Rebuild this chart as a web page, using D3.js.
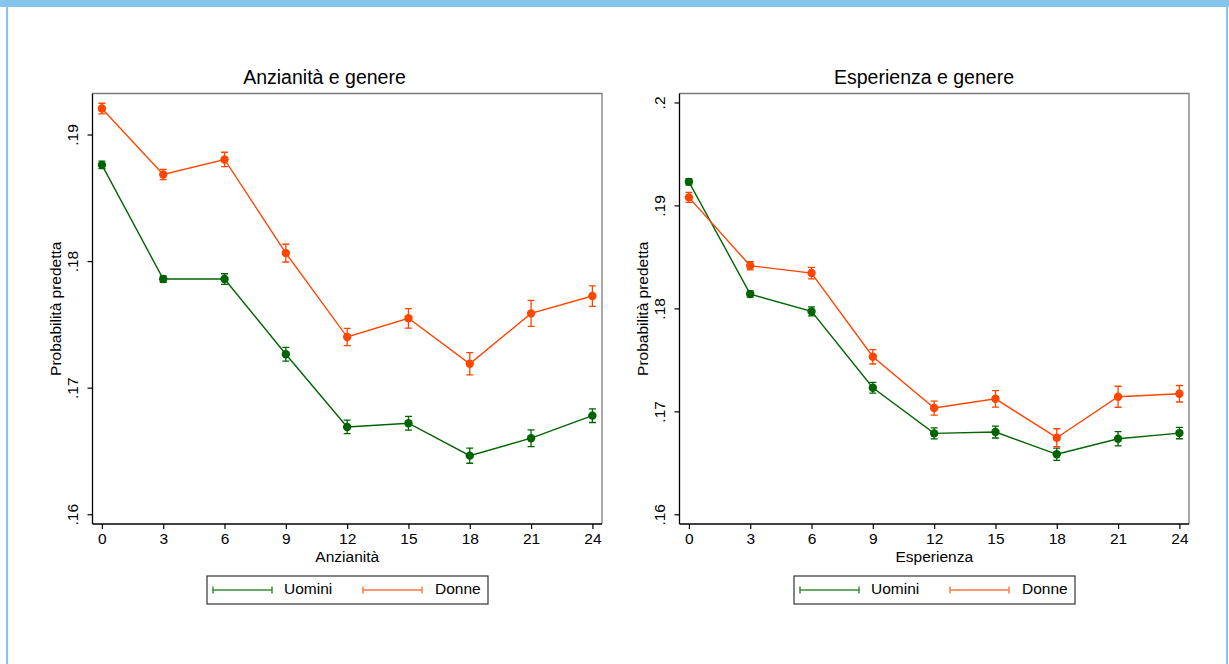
<!DOCTYPE html>
<html>
<head>
<meta charset="utf-8">
<script src="https://cdn.jsdelivr.net/npm/d3@7"></script>
<style>
  html, body { margin: 0; padding: 0; background: #fff; }
  svg { display: block; font-family: "Liberation Sans", Arial, sans-serif; }
</style>
</head>
<body>
<svg id="chart" width="1229" height="664"></svg>
<script>
// ---- Data ----
const xValues = [0, 3, 6, 9, 12, 15, 18, 21, 24];
const seriesNames = ["Uomini", "Donne"];

// Panel 1: Anzianità e genere
const anzUomini    = [0.18760, 0.17858, 0.17858, 0.17264, 0.16690, 0.16719, 0.16463, 0.16601, 0.16779];
const anzUominiCI  = [0.00030, 0.00025, 0.00042, 0.00054, 0.00053, 0.00054, 0.00060, 0.00066, 0.00054];
const anzDonne     = [0.19205, 0.18684, 0.18803, 0.18063, 0.17400, 0.17548, 0.17189, 0.17587, 0.17724];
const anzDonneCI   = [0.00042, 0.00040, 0.00057, 0.00070, 0.00068, 0.00077, 0.00088, 0.00103, 0.00081];

// Panel 2: Esperienza e genere
const espUomini    = [0.19229, 0.18139, 0.17971, 0.17229, 0.16786, 0.16799, 0.16583, 0.16734, 0.16789];
const espUominiCI  = [0.00030, 0.00030, 0.00044, 0.00052, 0.00053, 0.00058, 0.00060, 0.00070, 0.00055];
const espDonne     = [0.19078, 0.18414, 0.18343, 0.17530, 0.17032, 0.17122, 0.16744, 0.17142, 0.17171];
const espDonneCI   = [0.00049, 0.00039, 0.00056, 0.00070, 0.00068, 0.00080, 0.00087, 0.00102, 0.00080];

const anzYTicks = [0.16, 0.17, 0.18, 0.19];
const espYTicks = [0.16, 0.17, 0.18, 0.19, 0.20];
const yTickLabels = {0.16: ".16", 0.17: ".17", 0.18: ".18", 0.19: ".19", 0.2: ".2"};

const panels = [
  { title: "Anzianità e genere", xTitle: "Anzianità", yTitle: "Probabilità predetta",
    uomini: anzUomini, uominiCI: anzUominiCI, donne: anzDonne, donneCI: anzDonneCI,
    yTicks: anzYTicks, yDomain: [0.15923, 0.19324],
    left: 92.5, right: 602, titleX: 324.5, legendX: 207 },
  { title: "Esperienza e genere", xTitle: "Esperienza", yTitle: "Probabilità predetta",
    uomini: espUomini, uominiCI: espUominiCI, donne: espDonne, donneCI: espDonneCI,
    yTicks: espYTicks, yDomain: [0.15906, 0.20087],
    left: 679.5, right: 1189, titleX: 924, legendX: 794 }
];

const colors = { Uomini: "#006400", Donne: "#ff4500" };
const legendColors = { Uomini: "#3a8a3a", Donne: "#ff7a45" };

const svg = d3.select("#chart");

// Outer frame (Stata-like)
svg.append("rect").attr("x", 0).attr("y", 0).attr("width", 1229).attr("height", 7).attr("fill", "#86c5ea");
svg.append("rect").attr("x", 6).attr("y", 0).attr("width", 2).attr("height", 664).attr("fill", "#86c5ea");
svg.append("rect").attr("x", 1226).attr("y", 0).attr("width", 2).attr("height", 664).attr("fill", "#86c5ea");

const plotTop = 93.5, plotBottom = 524;
const fs = 15.5;

panels.forEach(p => {
  const g = svg.append("g");
  const x = d3.scaleLinear().domain([-0.46, 24.47]).range([p.left, p.right]);
  const y = d3.scaleLinear().domain(p.yDomain).range([plotBottom, plotTop]);

  // frame top/right
  g.append("path")
    .attr("d", `M${p.left},${plotTop}H${p.right}V${plotBottom}`)
    .attr("fill", "none").attr("stroke", "#7a7a7a").attr("stroke-width", 1.3);

  // Y axis
  const yAxis = d3.axisLeft(y).tickValues(p.yTicks).tickSize(5).tickSizeOuter(0)
    .tickFormat(d => yTickLabels[+d.toFixed(2)]);
  const ya = g.append("g").attr("transform", `translate(${p.left},0)`).call(yAxis);
  ya.select(".domain").attr("d", `M0,${plotTop}V${plotBottom}`).attr("stroke", "#000").attr("stroke-width", 1.3);
  ya.selectAll(".tick line").attr("stroke", "#000").attr("stroke-width", 1.2);
  ya.selectAll(".tick text")
    .attr("font-size", fs).attr("fill", "#000")
    .attr("text-anchor", "middle")
    .attr("x", 0).attr("dy", 0)
    .attr("transform", "translate(-19,0) rotate(-90)")
    .attr("dominant-baseline", "middle");

  // X axis
  const xAxis = d3.axisBottom(x).tickValues(xValues).tickSize(5).tickSizeOuter(0);
  const xa = g.append("g").attr("transform", `translate(0,${plotBottom})`).call(xAxis);
  xa.select(".domain").attr("d", `M${p.left},0H${p.right}`).attr("stroke", "#000").attr("stroke-width", 1.3);
  xa.selectAll(".tick line").attr("stroke", "#000").attr("stroke-width", 1.2);
  xa.selectAll(".tick text").attr("font-size", fs).attr("fill", "#000").attr("y", 9).attr("dy", "0.71em");

  // Titles
  g.append("text").attr("x", p.titleX).attr("y", 84).attr("text-anchor", "middle")
    .attr("font-size", 19.5).attr("fill", "#000").text(p.title);
  g.append("text").attr("x", (p.left + p.right) / 2).attr("y", 562).attr("text-anchor", "middle")
    .attr("font-size", fs).attr("fill", "#000").text(p.xTitle);
  g.append("text")
    .attr("transform", `translate(${p.left - 36},${(plotTop + plotBottom) / 2}) rotate(-90)`)
    .attr("text-anchor", "middle").attr("dominant-baseline", "middle")
    .attr("font-size", fs).attr("fill", "#000").text(p.yTitle);

  // Series
  const series = [
    { name: "Uomini", vals: p.uomini, ci: p.uominiCI },
    { name: "Donne", vals: p.donne, ci: p.donneCI }
  ];
  const line = d3.line().x(d => x(d.x)).y(d => y(d.v));
  series.forEach(s => {
    const data = xValues.map((xv, i) => ({ x: xv, v: s.vals[i], ci: s.ci[i] }));
    const c = colors[s.name];
    g.append("path").datum(data).attr("d", line)
      .attr("fill", "none").attr("stroke", c).attr("stroke-width", 1.4);
    const eb = g.append("g");
    data.forEach(d => {
      const cx = x(d.x), y1 = y(d.v + d.ci), y2 = y(d.v - d.ci);
      eb.append("path")
        .attr("d", `M${cx - 3.5},${y1}H${cx + 3.5}M${cx},${y1}V${y2}M${cx - 3.5},${y2}H${cx + 3.5}`)
        .attr("fill", "none").attr("stroke", c).attr("stroke-width", 1.3);
    });
    g.selectAll(null).data(data).enter().append("circle")
      .attr("cx", d => x(d.x)).attr("cy", d => y(d.v)).attr("r", 4.2).attr("fill", c);
  });

  // Legend
  const lg = g.append("g").attr("transform", `translate(${p.legendX},576)`);
  lg.append("rect").attr("x", 0).attr("y", 0).attr("width", 281).attr("height", 28)
    .attr("fill", "#fff").attr("stroke", "#333").attr("stroke-width", 1.2);
  const items = [
    { name: seriesNames[0], x0: 6, x1: 65, tx: 77 },
    { name: seriesNames[1], x0: 156, x1: 215, tx: 228 }
  ];
  items.forEach(it => {
    const c = legendColors[it.name];
    lg.append("path")
      .attr("d", `M${it.x0},14H${it.x1}M${it.x0},10.5V17.5M${it.x1},10.5V17.5`)
      .attr("fill", "none").attr("stroke", c).attr("stroke-width", 1.5);
    lg.append("text").attr("x", it.tx).attr("y", 14).attr("dominant-baseline", "middle")
      .attr("font-size", fs).attr("fill", "#000").text(it.name);
  });
});
</script>
</body>
</html>
